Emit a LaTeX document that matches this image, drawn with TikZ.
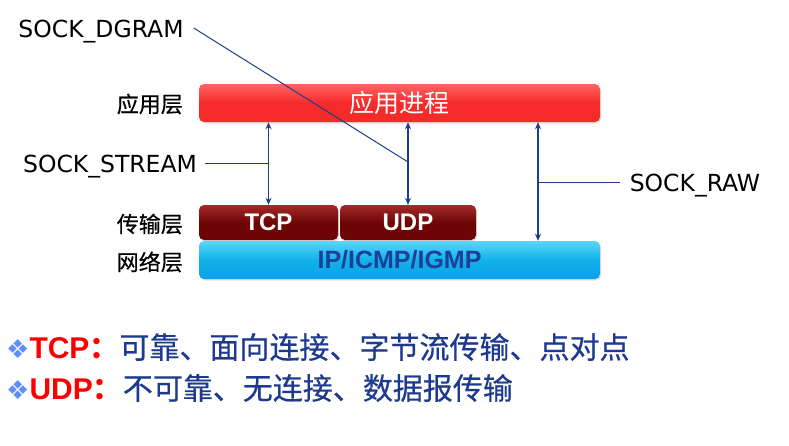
\documentclass[tikz,border=0pt]{standalone}
\usepackage{fontspec}
\setmainfont{Liberation Sans}
\newfontfamily\cjk{Noto Sans CJK SC}
\newfontfamily\cjkm[FakeBold=0.5]{Noto Sans CJK SC}
\newfontfamily\djv{DejaVu Sans}
\usetikzlibrary{arrows.meta,shadows}
\definecolor{barred}{HTML}{F52A2A}
\definecolor{barredtop}{HTML}{FF6464}
\definecolor{tcpred}{HTML}{6E0505}
\definecolor{tcpredtop}{HTML}{A52A2A}
\definecolor{netcyan}{HTML}{10B2E8}
\definecolor{netcyantop}{HTML}{5AD6FA}
\definecolor{linkblue}{HTML}{1F3C8F}
\definecolor{txtblue}{HTML}{1E3A8E}
\definecolor{bulblue}{HTML}{5F8CFF}
\definecolor{ipblue}{HTML}{1C3F9A}
\begin{document}
\begin{tikzpicture}[x=1pt,y=-1pt,
  bar/.style={rounded corners=5pt, minimum height=#1, inner sep=0pt, drop shadow={shadow xshift=1pt,shadow yshift=-1.5pt,opacity=0.25}},
  redbar/.style={bar=38pt, top color=barredtop, bottom color=barred, middle color=barred, text=white, font=\cjk\fontsize{25}{28}\selectfont},
  tcpbox/.style={bar=35pt, top color=tcpredtop, bottom color=tcpred, middle color=tcpred, text=white, font=\bfseries\fontsize{24}{28}\selectfont},
  netbar/.style={bar=38pt, top color=netcyantop, bottom color=netcyan!90!blue, middle color=netcyan, text=ipblue, font=\bfseries\fontsize{25}{28}\selectfont},
  sock/.style={font=\djv\fontsize{23.5}{26}\selectfont, inner sep=0pt},
  layer/.style={font=\cjkm\fontsize{22}{24}\selectfont, inner sep=0pt, anchor=east},
  dbl/.style={{Stealth[length=7pt,width=6pt]}-{Stealth[length=7pt,width=6pt]}, line width=1.6pt, draw=linkblue},
  link/.style={line width=1pt, draw=linkblue},
  info/.style={anchor=west, inner sep=0pt, text=txtblue, font=\cjkm\fontsize{30}{34}\selectfont}
]
\useasboundingbox[fill=white] (0,0) rectangle (789,445);

% bars
\node[redbar, minimum width=401pt] (app) at (399.5,103) {应用进程};
\node[tcpbox, minimum width=139pt] (tcp) at (268.5,222.5) {TCP};
\node[tcpbox, minimum width=136pt] (udp) at (408,222.5) {UDP};
\node[netbar, minimum width=401pt] (net) at (399.5,260) {IP/ICMP/IGMP};

% layer labels
\node[layer] (l1) at (183,104) {应用层};
\node[layer] (l2) at (183,224) {传输层};
\node[layer] (l3) at (183,262) {网络层};

% socket labels
\node[sock, anchor=base] (dgram) at (101,37) {SOCK\_DGRAM};
\node[sock, anchor=base] (stream) at (110,172) {SOCK\_STREAM};
\node[sock, anchor=base] (raw) at (695,191) {SOCK\_RAW};

% junctions
\coordinate (tj) at (268,163);
\coordinate (uj) at (408,162);
\coordinate (rx) at (538,0);
\coordinate (rj) at (538,182);
\coordinate (dj) at (0,28);

% arrows
\draw[dbl] (tcp.north |- app.south) -- (tcp.north);
\draw[dbl] (udp.north |- app.south) -- (udp.north);
\draw[dbl] (rx |- app.south) -- (rx |- net.north);

% connectors
\draw[link] ([xshift=10pt]dj -| dgram.east) -- (uj);
\draw[link] ([xshift=8pt]tj -| stream.east) -- (tj);
\draw[link] (rj) -- ([xshift=-10pt]rj -| raw.west);

% bottom text
\node[info] (t1) at (6,347) {{\djv\color{bulblue}\fontsize{26}{34}\selectfont ❖}{\color{red}\rmfamily\bfseries TCP\cjk ：}可靠、面向连接、字节流传输、点对点};
\node[info] (t2) at (6,388) {{\djv\color{bulblue}\fontsize{26}{34}\selectfont ❖}{\color{red}\rmfamily\bfseries UDP\cjk ：}不可靠、无连接、数据报传输};
\end{tikzpicture}
\end{document}
